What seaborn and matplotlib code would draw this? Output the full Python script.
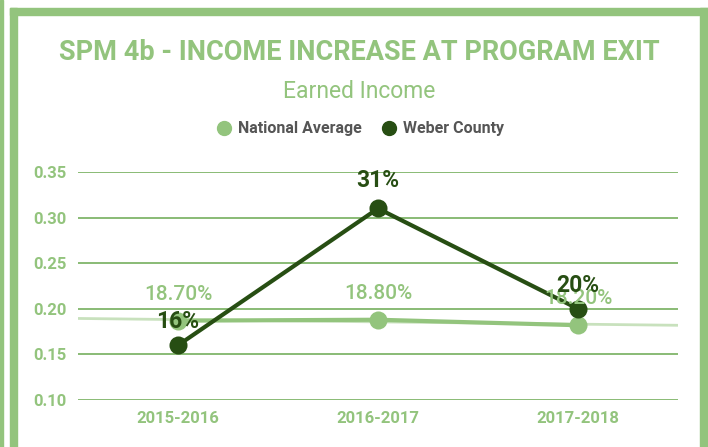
import numpy as np
import pandas as pd
import matplotlib
matplotlib.use("Agg")
import matplotlib.pyplot as plt
from matplotlib.patches import Rectangle
from matplotlib.lines import Line2D
import seaborn as sns

# ---- data ----
periods = ["2015-2016", "2016-2017", "2017-2018"]
national_avg = [0.187, 0.188, 0.182]
weber_county = [0.16, 0.31, 0.20]
national_labels = ["18.70%", "18.80%", "18.20%"]
weber_labels = ["16%", "31%", "20%"]
yticks = [0.10, 0.15, 0.20, 0.25, 0.30, 0.35]

LIGHT = "#93c47d"
DARK = "#274e13"
GRID = "#6aa84f"

sns.set_theme(style="white")
plt.rcParams["font.family"] = ["Roboto", "DejaVu Sans"]

df = pd.DataFrame({
    "period": periods * 2,
    "value": national_avg + weber_county,
    "series": ["National Average"] * 3 + ["Weber County"] * 3,
})

fig = plt.figure(figsize=(7.08, 4.47), dpi=100)
ax = fig.add_axes([78 / 708, 1 - 400 / 447, 600 / 708, 228 / 447])

# border frame
for (x0, y0, w, h) in [(0, 0, 3, 447), (10, 8, 7, 439), (10, 8, 698, 7), (700, 8, 8, 439)]:
    fig.patches.append(Rectangle((x0 / 708, 1 - (y0 + h) / 447), w / 708, h / 447,
                                 transform=fig.transFigure, color=LIGHT, zorder=0))

# gridlines
for y in yticks:
    ax.axhline(y, color=GRID, lw=1.1, zorder=1)

# trendline for national average
xs = np.arange(len(periods))
coef = np.polyfit(xs, national_avg, 1)
xt = np.array([-0.5, 2.5])
ax.plot(xt, np.polyval(coef, xt), color=LIGHT, alpha=0.5, lw=2.0, zorder=2,
        solid_capstyle="butt")

sns.lineplot(data=df, x="period", y="value", hue="series",
             palette={"National Average": LIGHT, "Weber County": DARK},
             marker="o", markersize=13, markeredgewidth=0, linewidth=3,
             ax=ax, legend=False, zorder=3, sort=False)

# point labels
for i, (v, t) in enumerate(zip(national_avg, national_labels)):
    ax.annotate(t, (i, v), xytext=(0, 19), textcoords="offset points",
                ha="center", va="center", color=LIGHT, fontsize=15,
                fontweight="medium", zorder=5)
for i, (v, t) in enumerate(zip(weber_county, weber_labels)):
    ax.annotate(t, (i, v), xytext=(0, 17 if i != 1 else 20), textcoords="offset points",
                ha="center", va="center", color=DARK, fontsize=16.5,
                fontweight="bold", zorder=6)

ax.set_xlim(-0.5, 2.5)
ax.set_ylim(0.10, 0.35)
ax.set_yticks(yticks)
ax.set_yticklabels([f"{y:.2f}" for y in yticks])
ax.set_xlabel("")
ax.set_ylabel("")
for s in ax.spines.values():
    s.set_visible(False)
ax.tick_params(length=0, colors=LIGHT, labelsize=12)
ax.tick_params(axis="x", pad=8)
ax.tick_params(axis="y", pad=8)
for lab in ax.get_xticklabels() + ax.get_yticklabels():
    lab.set_fontweight("bold")
    lab.set_color(LIGHT)

# titles
fig.text(359 / 708, 1 - 53 / 447, "SPM 4b - INCOME INCREASE AT PROGRAM EXIT",
         ha="center", va="center", color=LIGHT, fontsize=19.5, fontweight="bold")
fig.text(359 / 708, 1 - 91 / 447, "Earned Income", ha="center", va="center",
         color=LIGHT, fontsize=16.5)

# legend
handles = [Line2D([], [], marker="o", ls="", color=LIGHT, markersize=10),
           Line2D([], [], marker="o", ls="", color=DARK, markersize=10)]
leg = fig.legend(handles, ["National Average", "Weber County"], loc="center",
                 bbox_to_anchor=(358 / 708, 1 - 129 / 447), ncol=2, frameon=False,
                 handletextpad=0.1, columnspacing=1.0, handlelength=1.5,
                 prop={"weight": "bold", "size": 11.5})
for t in leg.get_texts():
    t.set_color("#555555")

fig.savefig("out.png", dpi=100)
